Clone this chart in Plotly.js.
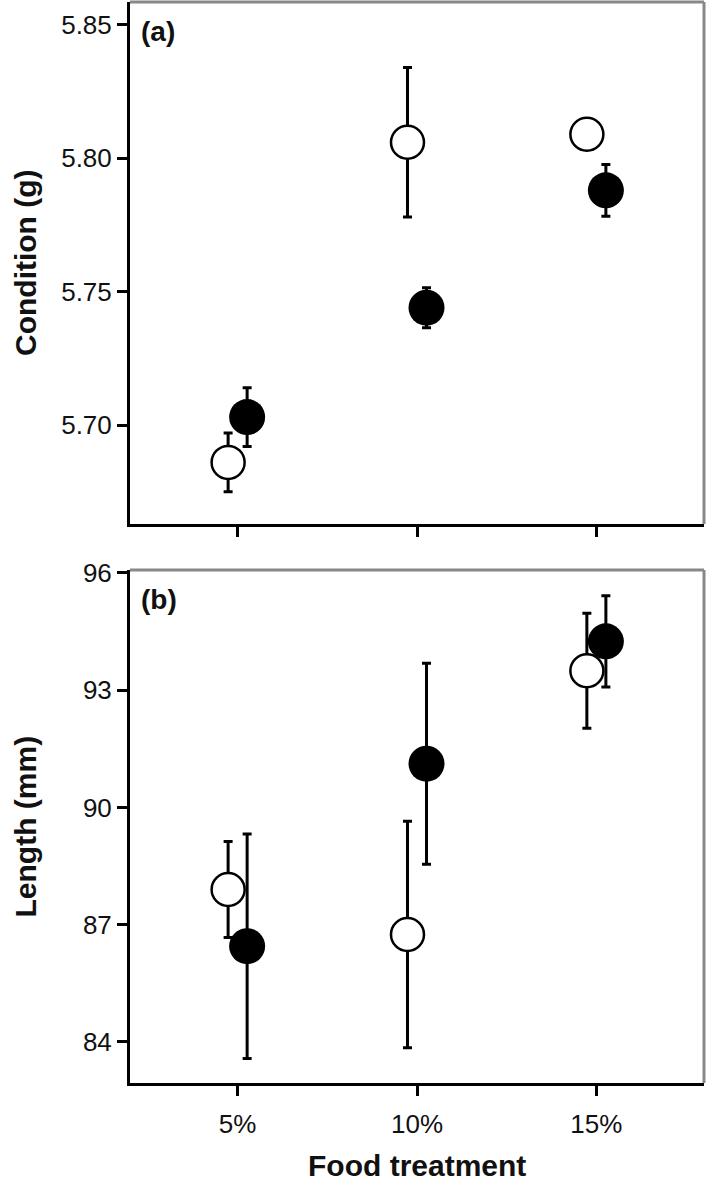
<!DOCTYPE html>
<html>
<head>
<meta charset="utf-8">
<script src="https://cdn.plot.ly/plotly-3.0.1.min.js"></script>
<style>html,body{margin:0;padding:0;background:#fff;}#chart{width:709px;height:1187px;}</style>
</head>
<body>
<div id="chart"></div>
<script>
// Categories and tick labels
var categories = [1, 2, 3];
var tickLabels = ['5%', '10%', '15%'];
var groupOffset = 0.053;

// Panel (a) Condition (g)
var condOpen = [5.686, 5.806, 5.809];
var condOpenErr = [0.011, 0.028, 0.002];
var condFilled = [5.703, 5.744, 5.788];
var condFilledErr = [0.011, 0.0075, 0.0097];

// Panel (b) Length (mm)
var lenOpen = [87.9, 86.75, 93.5];
var lenOpenErr = [1.23, 2.9, 1.47];
var lenFilled = [86.45, 91.12, 94.25];
var lenFilledErr = [2.87, 2.57, 1.17];

var xOpen = categories.map(function(c){ return c - groupOffset; });
var xFilled = categories.map(function(c){ return c + groupOffset; });

function errStyle(arr){
  return {type:'data', array:arr, symmetric:true, visible:true, color:'#000', thickness:3, width:4.5};
}
function openTrace(x, y, err, xa, ya){
  return {x:x, y:y, xaxis:xa, yaxis:ya, type:'scatter', mode:'markers', error_y:errStyle(err),
    marker:{symbol:'circle', size:33, color:'#fff', line:{color:'#000', width:2.5}}, hoverinfo:'skip'};
}
function filledTrace(x, y, err, xa, ya){
  return {x:x, y:y, xaxis:xa, yaxis:ya, type:'scatter', mode:'markers', error_y:errStyle(err),
    marker:{symbol:'circle', size:36, color:'#000', line:{color:'#000', width:0}}, hoverinfo:'skip'};
}

var data = [
  openTrace(xOpen, condOpen, condOpenErr, 'x', 'y'),
  filledTrace(xFilled, condFilled, condFilledErr, 'x', 'y'),
  openTrace(xOpen, lenOpen, lenOpenErr, 'x2', 'y2'),
  filledTrace(xFilled, lenFilled, lenFilledErr, 'x2', 'y2')
];

var FF = 'Liberation Sans, Arial, sans-serif';
var tickFont = {family:FF, size:26, color:'#111'};
var titleFont = {family:FF, size:30, color:'#111'};

var xBase = {range:[0.4, 3.6], tickmode:'array', tickvals:categories, ticktext:tickLabels,
  showline:true, linecolor:'#000', linewidth:3, ticks:'outside', ticklen:10, tickwidth:3, tickcolor:'#000',
  showgrid:false, zeroline:false, tickfont:tickFont, fixedrange:true};

var yBase = {showline:true, linecolor:'#000', linewidth:3, ticks:'outside', ticklen:10, tickwidth:3, tickcolor:'#000',
  showgrid:false, zeroline:false, tickfont:tickFont, ticklabelstandoff:0, tickmode:'array'};

var layout = {
  width:709, height:1187,
  margin:{l:130, r:5, t:2, b:104},
  paper_bgcolor:'#fff', plot_bgcolor:'#fff',
  showlegend:false,
  xaxis:Object.assign({}, xBase, {domain:[0,1], anchor:'y', showticklabels:false}),
  yaxis:Object.assign({}, yBase, {domain:[0.5171, 1], anchor:'x', range:[5.6629, 5.8586],
    tickvals:[5.70, 5.75, 5.80, 5.85], ticktext:['5.70','5.75','5.80','5.85']}),
  xaxis2:Object.assign({}, xBase, {domain:[0,1], anchor:'y2', ticklabelstandoff:6}),
  yaxis2:Object.assign({}, yBase, {domain:[0, 0.4746], anchor:'x2', range:[82.95, 96.077],
    tickvals:[84, 87, 90, 93, 96], ticktext:['84','87','90','93','96']}),
  shapes:[
    {type:'line', xref:'x domain', yref:'y domain', x0:0, x1:1, y0:1, y1:1, line:{color:'#888', width:3}},
    {type:'line', xref:'x domain', yref:'y domain', x0:1, x1:1, y0:0, y1:1, line:{color:'#888', width:3}},
    {type:'line', xref:'x2 domain', yref:'y2 domain', x0:0, x1:1, y0:1, y1:1, line:{color:'#888', width:3}},
    {type:'line', xref:'x2 domain', yref:'y2 domain', x0:1, x1:1, y0:0, y1:1, line:{color:'#888', width:3}}
  ],
  annotations:[
    {text:'<b>(a)</b>', xref:'x domain', yref:'y domain', x:0, y:1, xanchor:'left', yanchor:'top',
      xshift:9, yshift:-12, showarrow:false, font:{family:FF, size:28, color:'#111'}},
    {text:'<b>(b)</b>', xref:'x2 domain', yref:'y2 domain', x:0, y:1, xanchor:'left', yanchor:'top',
      xshift:9, yshift:-12, showarrow:false, font:{family:FF, size:28, color:'#111'}},
    {text:'<b>Condition (g)</b>', xref:'paper', yref:'y domain', x:0, y:0.5, xanchor:'center', yanchor:'middle',
      xshift:-105, textangle:-90, showarrow:false, font:titleFont},
    {text:'<b>Length (mm)</b>', xref:'paper', yref:'y2 domain', x:0, y:0.5, xanchor:'center', yanchor:'middle',
      xshift:-105, textangle:-90, showarrow:false, font:titleFont},
    {text:'<b>Food treatment</b>', xref:'x2 domain', yref:'paper', x:0.5, y:0, xanchor:'center', yanchor:'middle',
      yshift:-82, showarrow:false, font:titleFont}
  ]
};

Plotly.newPlot('chart', data, layout, {displayModeBar:false, staticPlot:true});
</script>
</body>
</html>
